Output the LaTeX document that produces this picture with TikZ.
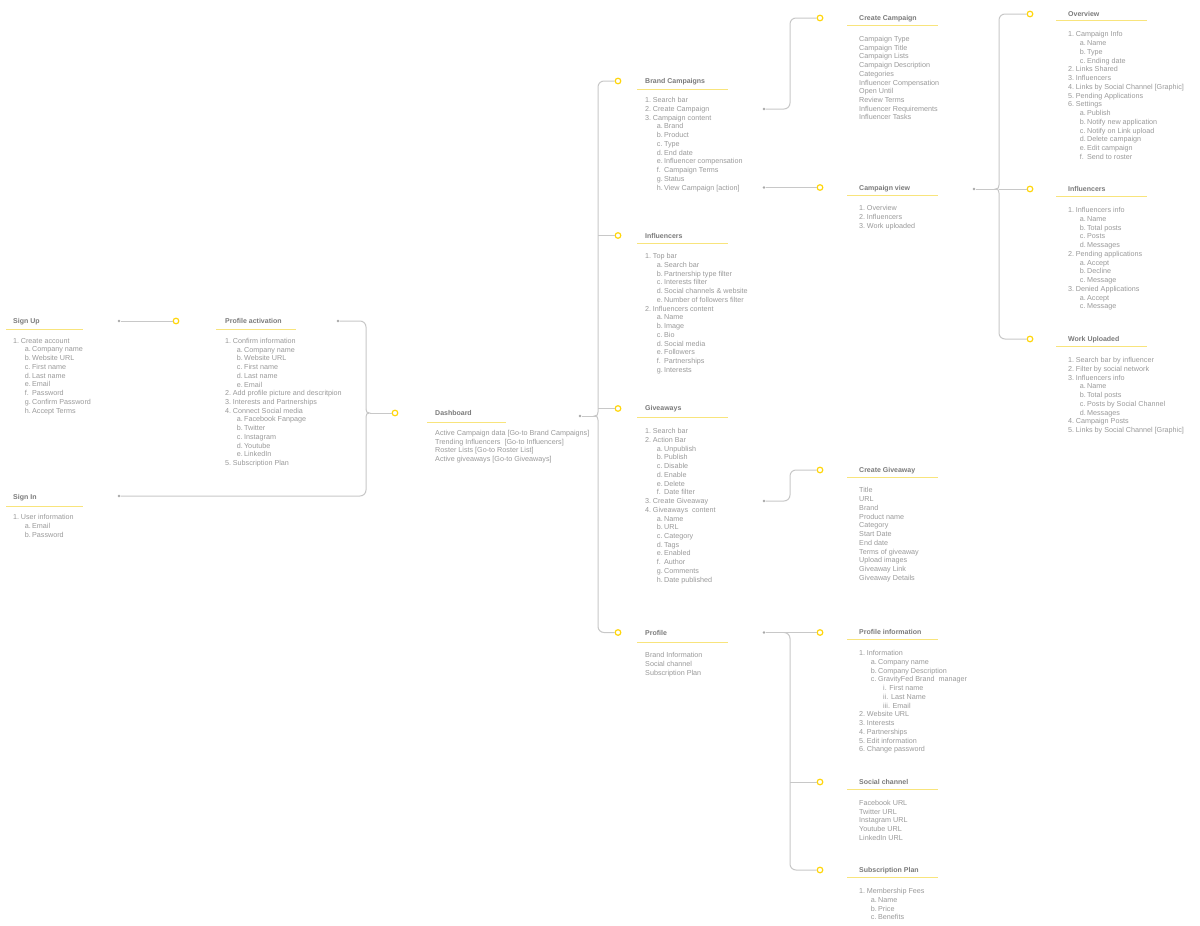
\documentclass[tikz,border=0pt]{standalone}
\usepackage{fontspec}
\setmainfont{Liberation Sans}
\definecolor{titlegray}{HTML}{7A7A7A}
\definecolor{bodygray}{HTML}{9A9A9A}
\definecolor{linegray}{HTML}{C8C8C8}
\definecolor{dotgray}{HTML}{A8A8A8}
\definecolor{ylw}{HTML}{FFD60A}
\definecolor{ulyellow}{HTML}{F8E47C}
\tikzset{
  ttl/.style={font=\fontsize{7}{8}\selectfont\bfseries, text=titlegray, inner sep=0pt, anchor=base west},
  bdy/.style={font=\fontsize{7.2}{8}\selectfont, text=bodygray, inner sep=0pt, anchor=base west},
  uline/.style={draw=ulyellow, line width=1pt},
  conn/.style={draw=linegray, line width=1pt},
  ycirc/.style={circle, draw=ylw, fill=white, line width=1.2pt, minimum size=5.6pt, inner sep=0pt},
  gdot/.style={circle, fill=dotgray, minimum size=2.6pt, inner sep=0pt},
}
\newcommand\Li[2]{\makebox[7.7pt][l]{#1}#2}
\newcommand\Lii[2]{\hspace*{11.7pt}\makebox[7.2pt][l]{#1}#2}
\newcommand\Liii[2]{\hspace*{24pt}#1 #2}
\newcommand\blk[4]{\foreach \t [count=\i] in {#4} {\node[bdy] (#1-\i) at (#2,{#3+2.6+(\i-1)*8.74}) {\t};}}
\newcommand\ttl[7]{\node[ttl] (#1) at (#2,{#3+2.5}) {#4};\draw[uline] (#5,#7) -- (#6,#7);}
\begin{document}
\begin{tikzpicture}[x=1pt,y=-1pt]
\fill[white] (0,0) rectangle (1200,926);
\useasboundingbox (0,0) rectangle (1200,926);

% ---------- titles ----------
\ttl{su}{13}{321}{Sign Up}{6}{83}{329.5}
\ttl{si}{13}{497}{Sign In}{6}{83}{506}
\ttl{pa}{225}{321}{Profile activation}{216}{296}{329.5}
\ttl{db}{435}{413}{Dashboard}{427}{506}{422}
\ttl{bc}{645}{81}{Brand Campaigns}{637}{728}{89}
\ttl{im}{645}{235.7}{Influencers}{637}{728}{243.3}
\ttl{gv}{645}{408.3}{Giveaways}{637}{728}{417.7}
\ttl{pr}{645}{632.7}{Profile}{637}{728}{642}
\ttl{cc}{859}{17.7}{Create Campaign}{847}{938}{25}
\ttl{cv}{859}{187.7}{Campaign view}{847}{938}{195.7}
\ttl{ov}{1068}{14}{Overview}{1056}{1147}{20.7}
\ttl{ir}{1068}{189.3}{Influencers}{1056}{1147}{196.7}
\ttl{wu}{1068}{339}{Work Uploaded}{1056}{1147}{346.3}
\ttl{cg}{859}{469.7}{Create Giveaway}{847}{938}{477.3}
\ttl{pi}{859}{632.3}{Profile information}{847}{938}{639.3}
\ttl{sc}{859}{782}{Social channel}{847}{938}{789.3}
\ttl{sp}{859}{870}{Subscription Plan}{847}{938}{877}

% ---------- bodies ----------
\blk{sub}{13}{340.5}{\Li{1.}{Create account}, \Lii{a.}{Company name}, \Lii{b.}{Website URL}, \Lii{c.}{First name}, \Lii{d.}{Last name}, \Lii{e.}{Email}, \Lii{f.}{Password}, \Lii{g.}{Confirm Password}, \Lii{h.}{Accept Terms}}
\blk{sib}{13}{517}{\Li{1.}{User information}, \Lii{a.}{Email}, \Lii{b.}{Password}}
\blk{pab}{225}{340.7}{\Li{1.}{Confirm information}, \Lii{a.}{Company name}, \Lii{b.}{Website URL}, \Lii{c.}{First name}, \Lii{d.}{Last name}, \Lii{e.}{Email}, \Li{2.}{Add profile picture and descritpion}, \Li{3.}{Interests and Partnerships}, \Li{4.}{Connect Social media}, \Lii{a.}{Facebook Fanpage}, \Lii{b.}{Twitter}, \Lii{c.}{Instagram}, \Lii{d.}{Youtube}, \Lii{e.}{LinkedIn}, \Li{5.}{Subscription Plan}}
\blk{dbb}{435}{432.7}{Active Campaign data [Go-to Brand Campaigns], Trending Influencers~ [Go-to Influencers], Roster Lists [Go-to Roster List], Active giveaways [Go-to Giveaways]}
\blk{bcb}{645}{100}{\Li{1.}{Search bar}, \Li{2.}{Create Campaign}, \Li{3.}{Campaign content}, \Lii{a.}{Brand}, \Lii{b.}{Product}, \Lii{c.}{Type}, \Lii{d.}{End date}, \Lii{e.}{Influencer compensation}, \Lii{f.}{Campaign Terms}, \Lii{g.}{Status}, \Lii{h.}{View Campaign [action]}}
\blk{imb}{645}{256}{\Li{1.}{Top bar}, \Lii{a.}{Search bar}, \Lii{b.}{Partnership type filter}, \Lii{c.}{Interests filter}, \Lii{d.}{Social channels \& website}, \Lii{e.}{Number of followers filter}, \Li{2.}{Influencers content}, \Lii{a.}{Name}, \Lii{b.}{Image}, \Lii{c.}{Bio}, \Lii{d.}{Social media}, \Lii{e.}{Followers}, \Lii{f.}{Partnerships}, \Lii{g.}{Interests}}
\blk{gvb}{645}{431}{\Li{1.}{Search bar}, \Li{2.}{Action Bar}, \Lii{a.}{Unpublish}, \Lii{b.}{Publish}, \Lii{c.}{Disable}, \Lii{d.}{Enable}, \Lii{e.}{Delete}, \Lii{f.}{Date filter}, \Li{3.}{Create Giveaway}, \Li{4.}{Giveaways~ content}, \Lii{a.}{Name}, \Lii{b.}{URL}, \Lii{c.}{Category}, \Lii{d.}{Tags}, \Lii{e.}{Enabled}, \Lii{f.}{Author}, \Lii{g.}{Comments}, \Lii{h.}{Date published}}
\blk{prb}{645}{655.3}{Brand Information, Social channel, Subscription Plan}
\blk{ccb}{859}{38.7}{Campaign Type, Campaign Title, Campaign Lists, Campaign Description, Categories, Influencer Compensation, Open Until, Review Terms, Influencer Requirements, Influencer Tasks}
\blk{cvb}{859}{208.3}{\Li{1.}{Overview}, \Li{2.}{Influencers}, \Li{3.}{Work uploaded}}
\blk{ovb}{1068}{34.3}{\Li{1.}{Campaign Info}, \Lii{a.}{Name}, \Lii{b.}{Type}, \Lii{c.}{Ending date}, \Li{2.}{Links Shared}, \Li{3.}{Influencers}, \Li{4.}{Links by Social Channel [Graphic]}, \Li{5.}{Pending Applications}, \Li{6.}{Settings}, \Lii{a.}{Publish}, \Lii{b.}{Notify new application}, \Lii{c.}{Notify on Link upload}, \Lii{d.}{Delete campaign}, \Lii{e.}{Edit campaign}, \Lii{f.}{Send to roster}}
\blk{irb}{1068}{210}{\Li{1.}{Influencers info}, \Lii{a.}{Name}, \Lii{b.}{Total posts}, \Lii{c.}{Posts}, \Lii{d.}{Messages}, \Li{2.}{Pending applications}, \Lii{a.}{Accept}, \Lii{b.}{Decline}, \Lii{c.}{Message}, \Li{3.}{Denied Applications}, \Lii{a.}{Accept}, \Lii{c.}{Message}}
\blk{wub}{1068}{360}{\Li{1.}{Search bar by influencer}, \Li{2.}{Filter by social network}, \Li{3.}{Influencers info}, \Lii{a.}{Name}, \Lii{b.}{Total posts}, \Lii{c.}{Posts by Social Channel}, \Lii{d.}{Messages}, \Li{4.}{Campaign Posts}, \Li{5.}{Links by Social Channel [Graphic]}}
\blk{cgb}{859}{490.3}{Title, URL, Brand, Product name, Category, Start Date, End date, Terms of giveaway, Upload images, Giveaway Link, Giveaway Details}
\blk{pib}{859}{653}{\Li{1.}{Information}, \Lii{a.}{Company name}, \Lii{b.}{Company Description}, \Lii{c.}{GravityFed Brand~ manager}, \Liii{i.}{First name}, \Liii{ii.}{Last Name}, \Liii{iii.}{Email}, \Li{2.}{Website URL}, \Li{3.}{Interests}, \Li{4.}{Partnerships}, \Li{5.}{Edit information}, \Li{6.}{Change password}}
\blk{scb}{859}{802.7}{Facebook URL, Twitter URL, Instagram URL, Youtube URL, LinkedIn URL}
\blk{spb}{859}{891}{\Li{1.}{Membership Fees}, \Lii{a.}{Name}, \Lii{b.}{Price}, \Lii{c.}{Benefits}}

% ---------- connector end marks ----------
\node[gdot] (su-d) at (119,321) {};
\node[ycirc] (su-c) at (176,321) {};
\node[gdot] (pa-d) at (338,321) {};
\node[gdot] (si-d) at (119,496) {};
\node[ycirc] (db-c) at (395,413) {};
\node[gdot] (db-d) at (580,416) {};
\node[ycirc] (bc-c) at (618,81) {};
\node[ycirc] (im-c) at (618,235.5) {};
\node[ycirc] (gv-c) at (618,408.5) {};
\node[ycirc] (pr-c) at (618,632.5) {};
\node[gdot] (bc-d1) at (764,109) {};
\node[gdot] (bc-d2) at (764,187.5) {};
\node[ycirc] (cc-c) at (820,18) {};
\node[ycirc] (cv-c) at (820,187.5) {};
\node[gdot] (cv-d) at (974,189) {};
\node[ycirc] (ov-c) at (1030,14) {};
\node[ycirc] (ir-c) at (1030,189) {};
\node[ycirc] (wu-c) at (1030,339) {};
\node[gdot] (gv-d) at (764,501) {};
\node[ycirc] (cg-c) at (820,470) {};
\node[gdot] (pr-d) at (764,632.5) {};
\node[ycirc] (pi-c) at (820,632.5) {};
\node[ycirc] (sc-c) at (820,782) {};
\node[ycirc] (sp-c) at (820,870) {};

% ---------- connectors ----------
\begin{scope}[on background layer/.style={}]
\draw[conn] (su-d) -- (su-c);
% profile activation / sign in -> dashboard
\draw[conn, rounded corners=6] (pa-d) -- (366,321) -- (366,409);
\draw[conn] (366,409) .. controls (366,412) and (367,413) .. (369.5,413) .. controls (367,413) and (366,414) .. (366,417);
\draw[conn, rounded corners=6] (366,417) -- (366,496) -- (si-d);
\draw[conn] (369.5,413) -- (db-c);
% dashboard -> sections
\draw[conn, rounded corners=6] (bc-c) -- (598,81) -- (598,412);
\draw[conn] (598,412) .. controls (598,415) and (597,416) .. (594.5,416) .. controls (597,416) and (598,417) .. (598,420);
\draw[conn, rounded corners=6] (598,420) -- (598,632.5) -- (pr-c);
\draw[conn] (598,235.5) -- (im-c);
\draw[conn] (598,408.5) -- (gv-c);
\draw[conn] (db-d) -- (594.5,416);
% brand campaigns
\draw[conn, rounded corners=6] (bc-d1) -- (790,109) -- (790,18) -- (cc-c);
\draw[conn] (bc-d2) -- (cv-c);
% campaign view
\draw[conn, rounded corners=6] (ov-c) -- (999,14) -- (999,185);
\draw[conn] (999,185) .. controls (999,188) and (998,189) .. (995.5,189) .. controls (998,189) and (999,190) .. (999,193);
\draw[conn, rounded corners=6] (999,193) -- (999,339) -- (wu-c);
\draw[conn] (cv-d) -- (995.5,189);
\draw[conn] (999,189) -- (ir-c);
% giveaways
\draw[conn, rounded corners=6] (gv-d) -- (790,501) -- (790,470) -- (cg-c);
% profile
\draw[conn] (pr-d) -- (pi-c);
\draw[conn, rounded corners=6] (784,632.5) -- (790,632.5) -- (790,870) -- (sp-c);
\draw[conn] (790,782) -- (sc-c);
\end{scope}
\end{tikzpicture}
\end{document}
